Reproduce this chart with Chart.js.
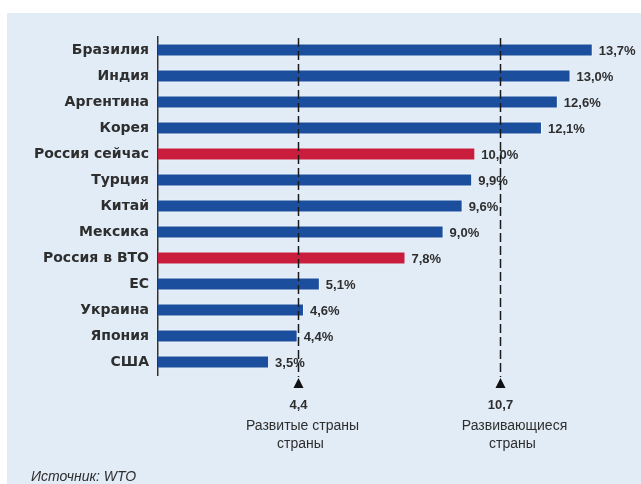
<!DOCTYPE html>
<html><head><meta charset="utf-8">
<script src="https://cdn.jsdelivr.net/npm/chart.js@4/dist/chart.umd.min.js"></script>
<style>html,body{margin:0;padding:0;background:#fff}#wrap{width:641px;height:484px}</style>
</head><body><div id="wrap"><canvas id="c" width="641" height="484"></canvas></div>
<script>
const categories = ["Бразилия","Индия","Аргентина","Корея","Россия сейчас","Турция","Китай","Мексика","Россия в ВТО","ЕС","Украина","Япония","США"];
const tariffs = [13.7,13.0,12.6,12.1,10.0,9.9,9.6,9.0,7.8,5.1,4.6,4.4,3.5];
const highlighted = [false,false,false,false,true,false,false,false,true,false,false,false,false];
const refValues = [4.4,10.7];
const refValueLabels = ["4,4","10,7"];
const refLabels = [["Развитые страны","страны"],["Развивающиеся","страны"]];
const sourceText = "Источник: WTO";

const BLUE = "#1b4f9d", RED = "#c81d3d", BG = "#e2ecf7", TEXT = "#2e2e2e";
const fmt = v => v.toFixed(1).replace(".", ",") + "%";

const decor = {
  id: "decor",
  beforeDraw(chart) {
    const ctx = chart.ctx;
    ctx.save();
    ctx.fillStyle = "#fff"; ctx.fillRect(0,0,chart.width,chart.height);
    ctx.fillStyle = BG; ctx.fillRect(7,13,chart.width-7,chart.height-13);
    ctx.restore();
  },
  afterDatasetsDraw(chart) {
    const ctx = chart.ctx, xs = chart.scales.x, ys = chart.scales.y;
    const meta = chart.getDatasetMeta(0);
    ctx.save();
    // value labels
    ctx.font = "bold 13px 'Liberation Sans', Arial, sans-serif";
    ctx.fillStyle = TEXT; ctx.textBaseline = "middle"; ctx.textAlign = "left";
    meta.data.forEach((bar, i) => {
      ctx.fillText(fmt(tariffs[i]), bar.x + 6, bar.y + 1);
    });
    // reference lines
    refValues.forEach((v, k) => {
      const x = Math.round(xs.getPixelForValue(v)) + 0.5 + (k === 1 ? 2 : 0);
      ctx.strokeStyle = "#1a1a1a"; ctx.lineWidth = 1.5; ctx.setLineDash([9,4]);
      ctx.beginPath(); ctx.moveTo(x, ys.top + 1); ctx.lineTo(x, ys.bottom + 2); ctx.stroke();
      ctx.setLineDash([]);
      ctx.fillStyle = "#111";
      ctx.beginPath(); ctx.moveTo(x, 378); ctx.lineTo(x - 5, 388); ctx.lineTo(x + 5, 388); ctx.closePath(); ctx.fill();
      ctx.fillStyle = TEXT; ctx.textAlign = "center"; ctx.textBaseline = "middle";
      ctx.font = "bold 13px 'Liberation Sans', Arial, sans-serif";
      ctx.fillText(refValueLabels[k], x, 405);
      ctx.font = "14px 'Liberation Sans', Arial, sans-serif";
      const off = k === 1 ? 14 : 4;
      ctx.fillText(refLabels[k][0], x + off, 426);
      ctx.fillText(refLabels[k][1], x + off - 2, 444);
    });
    ctx.font = "italic 14px 'Liberation Sans', Arial, sans-serif";
    ctx.textAlign = "left"; ctx.fillStyle = TEXT; ctx.textBaseline = "middle";
    ctx.fillText(sourceText, 31, 477);
    ctx.restore();
  }
};

new Chart(document.getElementById("c"), {
  type: "bar",
  data: {
    labels: categories,
    datasets: [{
      data: tariffs,
      backgroundColor: highlighted.map(h => h ? RED : BLUE),
      borderColor: "rgba(255,255,255,0.5)",
      borderWidth: 1,
      categoryPercentage: 1,
      barPercentage: 0.5
    }]
  },
  options: {
    indexAxis: "y",
    responsive: false,
    animation: false,
    layout: { padding: { left: 20, top: 37, bottom: 109, right: 7 } },
    plugins: { legend: { display: false }, tooltip: { enabled: false } },
    scales: {
      x: { display: false, min: 0, max: 15 },
      y: {
        afterFit(s) { s.width = 138; },
        grid: { display: false, drawTicks: false },
        border: { display: true, color: "#333", width: 1.5 },
        ticks: { color: TEXT, padding: 9, font: { family: "'DejaVu Sans', sans-serif", weight: "bold", size: 14 } }
      }
    }
  },
  plugins: [decor]
});
</script>
</body></html>
